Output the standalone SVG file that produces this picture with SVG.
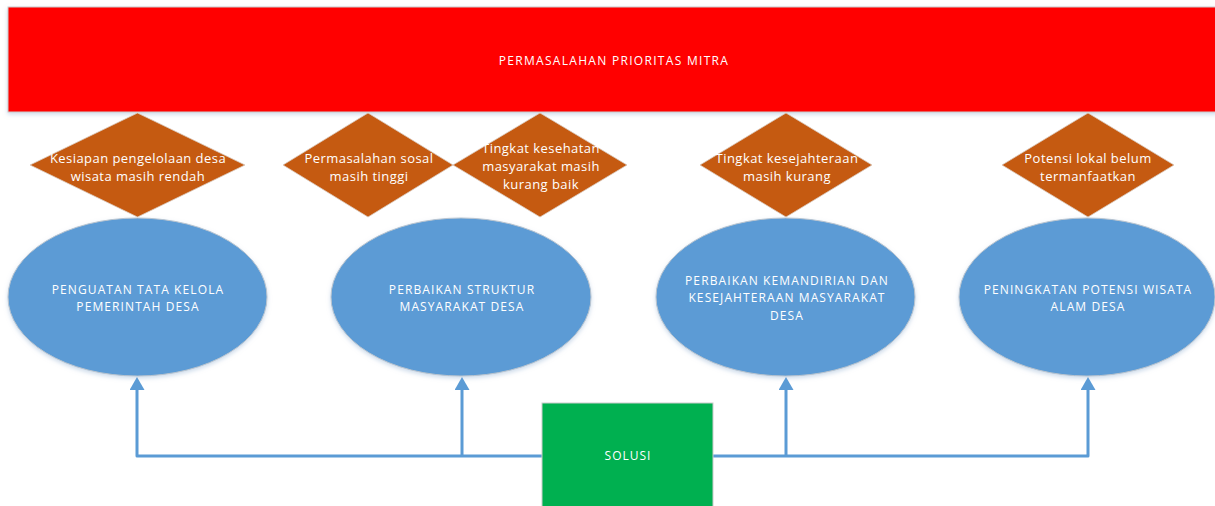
<svg xmlns="http://www.w3.org/2000/svg" width="1215" height="506" viewBox="0 0 1215 506">
<style>
text{font-family:"Open Sans","Liberation Sans",sans-serif;fill:#ffffff;text-anchor:middle;}
.dt{font-size:13px;letter-spacing:0.45px;}
.et{font-size:12px;letter-spacing:1.1px;}
.dia{fill:#C55A11;stroke:#d9c9bd;stroke-width:0.8;}
.ell{fill:#5B9BD5;stroke:#b9c4cf;stroke-width:1;}
.con{fill:none;stroke:#5B9BD5;stroke-width:3;stroke-linejoin:round;}
</style>
<defs>
<marker id="ah" viewBox="0 0 13 15" refX="0" refY="7.5" markerWidth="13" markerHeight="15" orient="auto" markerUnits="userSpaceOnUse">
<path d="M0,0 L13,7.5 L0,15 Z" fill="#5B9BD5"/>
</marker>
<filter id="sh" x="-5%" y="-5%" width="110%" height="115%">
<feDropShadow dx="0" dy="2" stdDeviation="2" flood-color="#9db7d6" flood-opacity="0.5"/>
</filter>
</defs>
<g id="problem">
<rect x="8" y="7" width="1210" height="105" fill="#FF0000" stroke="#cccccc" stroke-width="1" filter="url(#sh)"/>
<text x="614" y="65" font-size="12px" letter-spacing="1.3px">PERMASALAHAN PRIORITAS MITRA</text>
</g>
<g id="d1">
<polygon class="dia" points="137.5,113 245,165 137.5,217 30,165"/>
<text class="dt" x="138" y="163">Kesiapan pengelolaan desa</text>
<text class="dt" x="138" y="181">wisata masih rendah</text>
</g>
<g id="d2">
<polygon class="dia" points="368,113 453,165 368,217 283,165"/>
<text class="dt" x="369" y="163">Permasalahan sosal</text>
<text class="dt" x="369" y="181">masih tinggi</text>
</g>
<g id="d3">
<polygon class="dia" points="540,113 627,165 540,217 453,165"/>
<text class="dt" x="541" y="153">Tingkat kesehatan</text>
<text class="dt" x="541" y="171">masyarakat masih</text>
<text class="dt" x="541" y="189">kurang baik</text>
</g>
<g id="d4">
<polygon class="dia" points="786,113 872,165 786,217 700,165"/>
<text class="dt" x="787" y="163">Tingkat kesejahteraan</text>
<text class="dt" x="787" y="181">masih kurang</text>
</g>
<g id="d5">
<polygon class="dia" points="1088,113 1174,165 1088,217 1002,165"/>
<text class="dt" x="1088" y="163">Potensi lokal belum</text>
<text class="dt" x="1088" y="181">termanfaatkan</text>
</g>
<g id="e1">
<ellipse class="ell" cx="137.5" cy="297" rx="129.5" ry="79" filter="url(#sh)"/>
<text class="et" x="138" y="294">PENGUATAN TATA KELOLA</text>
<text class="et" x="138" y="311">PEMERINTAH DESA</text>
</g>
<g id="e2">
<ellipse class="ell" cx="461" cy="297" rx="130" ry="79" filter="url(#sh)"/>
<text class="et" x="462" y="294">PERBAIKAN STRUKTUR</text>
<text class="et" x="462" y="311">MASYARAKAT DESA</text>
</g>
<g id="e3">
<ellipse class="ell" cx="785.5" cy="297" rx="129.5" ry="79" filter="url(#sh)"/>
<text class="et" x="787" y="285">PERBAIKAN KEMANDIRIAN DAN</text>
<text class="et" x="787" y="302">KESEJAHTERAAN MASYARAKAT</text>
<text class="et" x="787" y="320">DESA</text>
</g>
<g id="e4">
<ellipse class="ell" cx="1087" cy="297" rx="128" ry="79" filter="url(#sh)"/>
<text class="et" x="1088" y="294">PENINGKATAN POTENSI WISATA</text>
<text class="et" x="1088" y="311">ALAM DESA</text>
</g>
<g id="connectors">
<path class="con" d="M542,456 H137 V390" marker-end="url(#ah)"/>
<path class="con" d="M462,456 V390" marker-end="url(#ah)"/>
<path class="con" d="M713,456 H1088 V390" marker-end="url(#ah)"/>
<path class="con" d="M786,456 V390" marker-end="url(#ah)"/>
</g>
<g id="solusi">
<rect x="542" y="403" width="171" height="110" fill="#00B050" stroke="#cccccc" stroke-width="1"/>
<text x="628" y="460" font-size="12px" letter-spacing="1px">SOLUSI</text>
</g>
</svg>
